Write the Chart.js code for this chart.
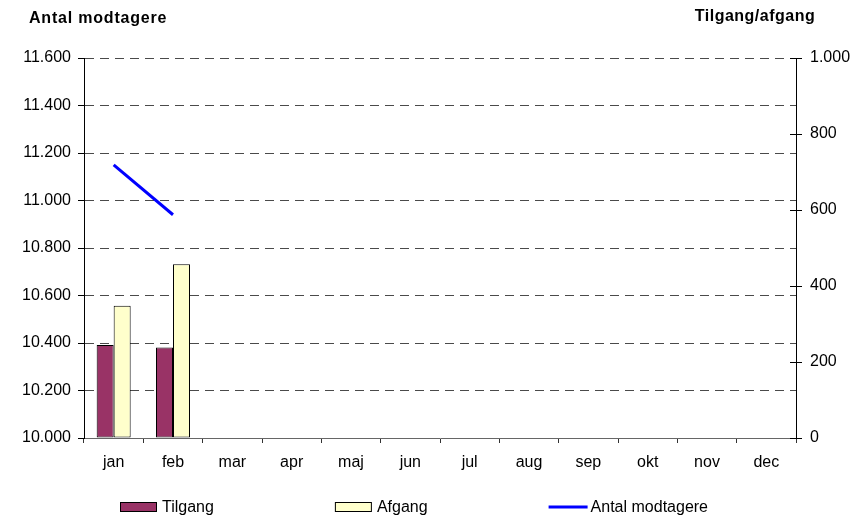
<!DOCTYPE html>
<html>
<head>
<meta charset="utf-8">
<title>Antal modtagere</title>
<script src="https://cdn.jsdelivr.net/npm/chart.js@4/dist/chart.umd.min.js"></script>
<style>
    body{ margin:0; background:#fff; }
    #wrap{ width:854px; height:516px; }
</style>
</head>
<body>
<div id="wrap"><canvas id="chart-area" width="854" height="516"></canvas></div>
<script>

/*=============================================
DATA
=============================================*/

let maaneder = ['jan','feb','mar','apr','maj','jun','jul','aug','sep','okt','nov','dec']

let tilgang = [245, 238, null, null, null, null, null, null, null, null, null, null]

let afgang = [348, 457, null, null, null, null, null, null, null, null, null, null]

let antalModtagere = [11150, 10940, null, null, null, null, null, null, null, null, null, null]

let venstreTicks = [10000, 10200, 10400, 10600, 10800, 11000, 11200, 11400, 11600]

let hoejreTicks = [0, 200, 400, 600, 800, 1000]

/*=============================================
HELPERS
=============================================*/

const fmt = v=>{

    return String(v).replace(/\B(?=(\d{3})+(?!\d))/g, '.')

}

const font = "'Liberation Sans', Arial, sans-serif"

/*=============================================
PLUGIN: TITLER, LEGEND OG TICKS PAA HOEJRE AKSE
=============================================*/

const ekstra = {
    id:'ekstra',
    afterDraw:(chart)=>{

        let ctx = chart.ctx
        let area = chart.chartArea

        ctx.save()

        // akse titler
        ctx.fillStyle = '#000'
        ctx.font = `bold 16px ${font}`
        ctx.letterSpacing = '0.8px'
        ctx.textBaseline = 'alphabetic'
        ctx.textAlign = 'left'
        ctx.fillText('Antal modtagere', 29, 23)
        ctx.letterSpacing = '0.5px'
        ctx.textAlign = 'center'
        ctx.fillText('Tilgang/afgang', 755, 21)
        ctx.letterSpacing = '0px'

        // ticks der krydser hoejre akse
        let y1 = chart.scales.y1
        ctx.strokeStyle = '#000'
        ctx.lineWidth = 1
        ctx.beginPath()
        hoejreTicks.forEach(t=>{
            let py = Math.round(y1.getPixelForValue(t)) + 0.5
            ctx.moveTo(area.right - 6, py)
            ctx.lineTo(area.right, py)
        })
        ctx.stroke()

        // legend
        ctx.font = `16px ${font}`
        let items = chart.data.datasets.map(ds=>({
            text: ds.label,
            type: ds.type || 'bar',
            fill: ds.backgroundColor,
            stroke: ds.borderColor
        }))
        let gap = 121
        let x = 120
        let cy = 507

        ctx.textAlign = 'left'
        ctx.textBaseline = 'middle'
        items.forEach((it)=>{
            let tx
            if(it.type == 'line'){
                ctx.strokeStyle = it.stroke
                ctx.lineWidth = 3
                ctx.beginPath()
                ctx.moveTo(x, cy)
                ctx.lineTo(x + 39, cy)
                ctx.stroke()
                tx = x + 42
            }else{
                ctx.fillStyle = it.fill
                ctx.fillRect(x, cy - 4.5, 36, 9)
                ctx.strokeStyle = '#000'
                ctx.lineWidth = 1
                ctx.strokeRect(x + 0.5, cy - 4.5, 36, 9)
                tx = x + 42
            }
            ctx.fillStyle = '#000'
            ctx.fillText(it.text, tx, cy + 1)
            x = tx + ctx.measureText(it.text).width + gap
        })

        ctx.restore()

    }
}

/*=============================================
CHART
=============================================*/

let config = {
    type: 'bar',
    data: {
        labels: maaneder,
        datasets: [
            {
                label: 'Tilgang',
                data: tilgang,
                yAxisID: 'y1',
                backgroundColor: '#993366',
                borderColor: '#000',
                borderWidth: 1,
                borderSkipped: false,
                order: 1
            },
            {
                label: 'Afgang',
                data: afgang,
                yAxisID: 'y1',
                backgroundColor: '#FFFFCC',
                borderColor: '#000',
                borderWidth: 1,
                borderSkipped: false,
                order: 1
            },
            {
                type: 'line',
                label: 'Antal modtagere',
                data: antalModtagere,
                yAxisID: 'y',
                borderColor: '#0000FF',
                backgroundColor: '#0000FF',
                borderWidth: 3,
                pointRadius: 0,
                fill: false,
                spanGaps: false,
                order: 0
            }
        ]
    },
    options: {
        responsive: false,
        animation: false,
        categoryPercentage: 0.573,
        barPercentage: 1,
        layout: {
            padding: { top: 58, bottom: 46, left: 0, right: 0 }
        },
        plugins: {
            legend: { display: false },
            tooltip: { enabled: false }
        },
        scales: {
            x: {
                offset: true,
                grid: {
                    drawOnChartArea: false,
                    tickLength: 5,
                    tickColor: '#333',
                    offset: true
                },
                border: { color: '#666', width: 1 },
                ticks: {
                    color: '#000',
                    padding: 10,
                    font: { family: font, size: 16 }
                },
                afterFit: (s)=>{ s.height = 32 }
            },
            y: {
                position: 'left',
                min: 10000,
                max: 11600,
                afterBuildTicks: (s)=>{ s.ticks = venstreTicks.map(v=>({value:v})) },
                grid: {
                    color: '#4a4a4a',
                    lineWidth: 1,
                    tickLength: 6,
                    tickColor: '#000',
                    tickBorderDash: []
                },
                border: { color: '#000', width: 1, dash: [9, 6] },
                ticks: {
                    color: '#000',
                    padding: 7,
                    font: { family: font, size: 16 },
                    callback: v=>fmt(v)
                },
                afterFit: (s)=>{ s.width = 84 }
            },
            y1: {
                position: 'right',
                min: 0,
                max: 1000,
                afterBuildTicks: (s)=>{ s.ticks = hoejreTicks.map(v=>({value:v})) },
                grid: {
                    drawOnChartArea: false,
                    tickLength: 6,
                    tickColor: '#000'
                },
                border: { color: '#000', width: 1 },
                ticks: {
                    color: '#000',
                    padding: 8,
                    font: { family: font, size: 16 },
                    callback: v=>fmt(v)
                },
                afterFit: (s)=>{ s.width = 58 }
            }
        }
    },
    plugins: [ekstra]
}

let ctx = document.getElementById('chart-area').getContext('2d')
window.myChart = new Chart(ctx, config)

</script>
</body>
</html>
